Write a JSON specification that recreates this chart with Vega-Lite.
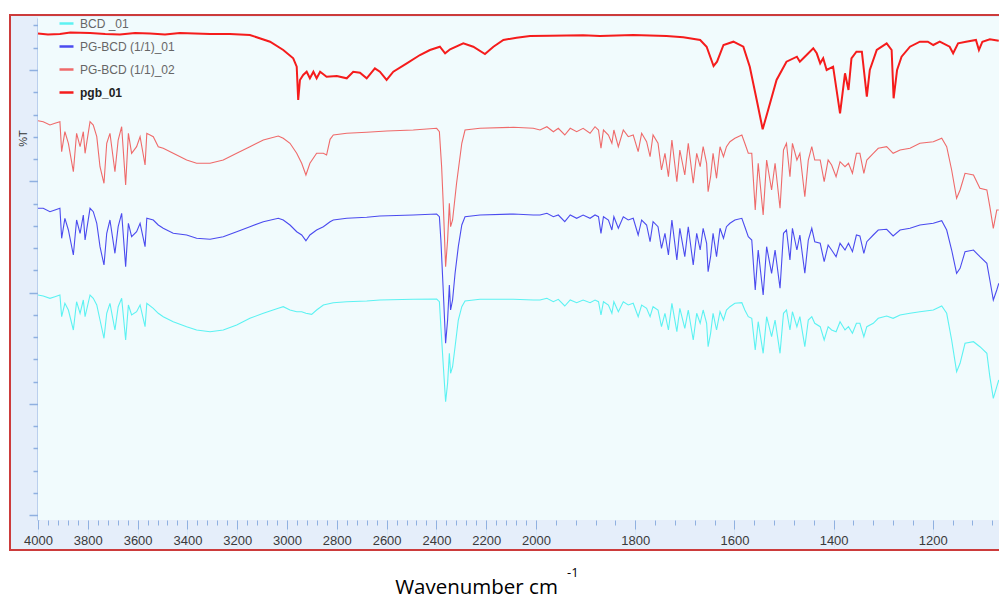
{
"$schema": "https://vega.github.io/schema/vega-lite/v6.json",
"width": 995,
"height": 535,
"autosize": {"type": "none"},
"padding": {"left": 10, "top": 15, "right": 0, "bottom": 49},
"background": "#ffffff",
"config": {"view": {"fill": "#e5eefa", "stroke": "#cc3b3b", "strokeWidth": 2}, "font": "Liberation Sans"},
"title": {"text": "-1", "orient": "top", "anchor": "start", "frame": "group", "offset": -575, "dx": 557, "fontSize": 13, "font": "Open Sans", "fontWeight": "normal", "color": "#000000", "baseline": "alphabetic"},
"datasets": {
"bcd": [{"x":4000,"y":220},{"x":3979,"y":219},{"x":3952,"y":216.7},{"x":3932,"y":218.3},{"x":3912,"y":220},{"x":3905,"y":198.3},{"x":3892,"y":211.7},{"x":3878,"y":205},{"x":3858,"y":185},{"x":3845,"y":213.3},{"x":3831,"y":201.7},{"x":3818,"y":215},{"x":3811,"y":198.3},{"x":3791,"y":220},{"x":3778,"y":216.7},{"x":3764,"y":210},{"x":3751,"y":195},{"x":3735,"y":176.7},{"x":3724,"y":201.7},{"x":3711,"y":211.7},{"x":3691,"y":185},{"x":3678,"y":208.3},{"x":3664,"y":216.7},{"x":3648,"y":175},{"x":3637,"y":210},{"x":3624,"y":200},{"x":3604,"y":203.3},{"x":3590,"y":210},{"x":3570,"y":188.3},{"x":3563,"y":211.7},{"x":3537,"y":206.7},{"x":3517,"y":201.7},{"x":3497,"y":198.3},{"x":3457,"y":193.3},{"x":3403,"y":188.3},{"x":3363,"y":185},{"x":3309,"y":183.3},{"x":3256,"y":185},{"x":3202,"y":190},{"x":3149,"y":196.7},{"x":3095,"y":201.7},{"x":3035,"y":206.7},{"x":3015,"y":208.3},{"x":2988,"y":205},{"x":2961,"y":203.3},{"x":2941,"y":203.3},{"x":2924,"y":201.7},{"x":2901,"y":200.7},{"x":2881,"y":205},{"x":2854,"y":210},{"x":2814,"y":212.3},{"x":2760,"y":213.3},{"x":2680,"y":214},{"x":2627,"y":215},{"x":2493,"y":215.7},{"x":2399,"y":216},{"x":2388,"y":213.3},{"x":2382,"y":188.3},{"x":2372,"y":148.3},{"x":2363,"y":113.3},{"x":2355,"y":131.7},{"x":2348,"y":161.7},{"x":2343,"y":141.7},{"x":2335,"y":148.3},{"x":2325,"y":168.3},{"x":2312,"y":195},{"x":2298,"y":208.3},{"x":2285,"y":214},{"x":2225,"y":215.7},{"x":2091,"y":215.7},{"x":2011,"y":215},{"x":1992,"y":215},{"x":1978,"y":216.7},{"x":1965,"y":213.3},{"x":1955,"y":215.7},{"x":1942,"y":209},{"x":1931,"y":215},{"x":1918,"y":212.3},{"x":1905,"y":215},{"x":1891,"y":212.3},{"x":1881,"y":215},{"x":1874,"y":213.3},{"x":1869,"y":200},{"x":1864,"y":213.3},{"x":1854,"y":210},{"x":1847,"y":201.7},{"x":1843,"y":213.3},{"x":1834,"y":203.3},{"x":1824,"y":213.3},{"x":1814,"y":210},{"x":1804,"y":211.7},{"x":1794,"y":198.3},{"x":1787,"y":210},{"x":1777,"y":206.7},{"x":1770,"y":198.3},{"x":1764,"y":208.3},{"x":1754,"y":205},{"x":1747,"y":188.3},{"x":1740,"y":201.7},{"x":1733,"y":185},{"x":1726,"y":211.7},{"x":1716,"y":183.3},{"x":1710,"y":206.7},{"x":1700,"y":186.7},{"x":1693,"y":205},{"x":1683,"y":175},{"x":1676,"y":201.7},{"x":1669,"y":191.7},{"x":1663,"y":205},{"x":1656,"y":191.7},{"x":1653,"y":168.3},{"x":1648,"y":181.7},{"x":1643,"y":201.7},{"x":1636,"y":185},{"x":1629,"y":203.3},{"x":1622,"y":195},{"x":1616,"y":205},{"x":1609,"y":208.3},{"x":1599,"y":211.7},{"x":1585,"y":212.3},{"x":1579,"y":205},{"x":1572,"y":198.3},{"x":1565,"y":196.7},{"x":1558,"y":165},{"x":1552,"y":193.3},{"x":1542,"y":161.7},{"x":1535,"y":198.3},{"x":1525,"y":178.3},{"x":1518,"y":195},{"x":1508,"y":161.7},{"x":1501,"y":201.7},{"x":1495,"y":205},{"x":1488,"y":185},{"x":1483,"y":203.3},{"x":1474,"y":188.3},{"x":1468,"y":198.3},{"x":1458,"y":168.3},{"x":1451,"y":195},{"x":1444,"y":198.3},{"x":1438,"y":191.7},{"x":1427,"y":188.3},{"x":1419,"y":175},{"x":1411,"y":188.3},{"x":1404,"y":185},{"x":1395,"y":183.3},{"x":1387,"y":193.3},{"x":1377,"y":185},{"x":1370,"y":188.3},{"x":1362,"y":181.7},{"x":1354,"y":191.7},{"x":1347,"y":191.7},{"x":1339,"y":178.3},{"x":1333,"y":188.3},{"x":1320,"y":191.7},{"x":1310,"y":196.7},{"x":1293,"y":199},{"x":1280,"y":196.7},{"x":1266,"y":200},{"x":1246,"y":201.7},{"x":1226,"y":203.3},{"x":1199,"y":205},{"x":1182,"y":209},{"x":1172,"y":201.7},{"x":1162,"y":175},{"x":1152,"y":143.3},{"x":1145,"y":151.7},{"x":1135,"y":171.7},{"x":1118,"y":173.3},{"x":1105,"y":168.3},{"x":1091,"y":161.7},{"x":1085,"y":138.3},{"x":1078,"y":116.7},{"x":1071,"y":128.3},{"x":1067,"y":135}],
"pg1": [{"x":4000,"y":306.7},{"x":3979,"y":306.7},{"x":3952,"y":303.3},{"x":3932,"y":305},{"x":3912,"y":306.7},{"x":3905,"y":276.7},{"x":3892,"y":296.7},{"x":3878,"y":285},{"x":3858,"y":260},{"x":3845,"y":295},{"x":3831,"y":281.7},{"x":3818,"y":300},{"x":3811,"y":275},{"x":3791,"y":306.7},{"x":3778,"y":303.3},{"x":3764,"y":291.7},{"x":3751,"y":268.3},{"x":3735,"y":250},{"x":3724,"y":281.7},{"x":3711,"y":295},{"x":3691,"y":261.7},{"x":3678,"y":288.3},{"x":3664,"y":301.7},{"x":3648,"y":248.3},{"x":3637,"y":291.7},{"x":3624,"y":278.3},{"x":3604,"y":283.3},{"x":3590,"y":291.7},{"x":3570,"y":268.3},{"x":3563,"y":296.7},{"x":3537,"y":295},{"x":3517,"y":290},{"x":3497,"y":286.7},{"x":3457,"y":281.7},{"x":3403,"y":280},{"x":3363,"y":276.7},{"x":3309,"y":275.7},{"x":3256,"y":278.3},{"x":3202,"y":283.3},{"x":3149,"y":288.3},{"x":3095,"y":293.3},{"x":3035,"y":296.7},{"x":3015,"y":295},{"x":2988,"y":290},{"x":2961,"y":283.3},{"x":2941,"y":280},{"x":2924,"y":274.3},{"x":2908,"y":280},{"x":2881,"y":285},{"x":2854,"y":288.3},{"x":2827,"y":293.3},{"x":2814,"y":295},{"x":2760,"y":296.7},{"x":2680,"y":297.7},{"x":2627,"y":299},{"x":2493,"y":300},{"x":2399,"y":301},{"x":2388,"y":298.3},{"x":2382,"y":275},{"x":2372,"y":221.7},{"x":2363,"y":171.7},{"x":2355,"y":195},{"x":2348,"y":230},{"x":2343,"y":205},{"x":2335,"y":215},{"x":2325,"y":241.7},{"x":2312,"y":268.3},{"x":2298,"y":290},{"x":2285,"y":298.3},{"x":2225,"y":300},{"x":2091,"y":301},{"x":2011,"y":300},{"x":1992,"y":300},{"x":1978,"y":301.7},{"x":1965,"y":298.3},{"x":1955,"y":300},{"x":1942,"y":293.3},{"x":1931,"y":300},{"x":1918,"y":296.7},{"x":1905,"y":300},{"x":1891,"y":296.7},{"x":1881,"y":300},{"x":1874,"y":298.3},{"x":1869,"y":281.7},{"x":1864,"y":298.3},{"x":1854,"y":295},{"x":1847,"y":285},{"x":1843,"y":298.3},{"x":1834,"y":286.7},{"x":1824,"y":298.3},{"x":1814,"y":295},{"x":1804,"y":296.7},{"x":1794,"y":280},{"x":1787,"y":295},{"x":1777,"y":290},{"x":1770,"y":273.3},{"x":1764,"y":293.3},{"x":1754,"y":288.3},{"x":1747,"y":266.7},{"x":1740,"y":281.7},{"x":1733,"y":260},{"x":1726,"y":295},{"x":1716,"y":255},{"x":1710,"y":286.7},{"x":1700,"y":258.3},{"x":1693,"y":288.3},{"x":1683,"y":250},{"x":1676,"y":281.7},{"x":1669,"y":265},{"x":1663,"y":286.7},{"x":1656,"y":271.7},{"x":1653,"y":243.3},{"x":1648,"y":258.3},{"x":1643,"y":281.7},{"x":1636,"y":258.3},{"x":1629,"y":286.7},{"x":1622,"y":276.7},{"x":1616,"y":288.3},{"x":1609,"y":291.7},{"x":1599,"y":295},{"x":1585,"y":296.7},{"x":1579,"y":288.3},{"x":1572,"y":278.3},{"x":1565,"y":275},{"x":1558,"y":225},{"x":1552,"y":265},{"x":1542,"y":220},{"x":1535,"y":268.3},{"x":1525,"y":241.7},{"x":1518,"y":265},{"x":1508,"y":226.7},{"x":1501,"y":281.7},{"x":1495,"y":285},{"x":1488,"y":255},{"x":1483,"y":286.7},{"x":1474,"y":265},{"x":1468,"y":280},{"x":1458,"y":241.7},{"x":1451,"y":275},{"x":1444,"y":286.7},{"x":1438,"y":273.3},{"x":1427,"y":271.7},{"x":1419,"y":253.3},{"x":1411,"y":270},{"x":1404,"y":265},{"x":1395,"y":258.3},{"x":1387,"y":271.7},{"x":1377,"y":265},{"x":1370,"y":271.7},{"x":1362,"y":263.3},{"x":1354,"y":280},{"x":1347,"y":279},{"x":1339,"y":261.7},{"x":1333,"y":273.3},{"x":1320,"y":280},{"x":1310,"y":285},{"x":1293,"y":285.7},{"x":1280,"y":279},{"x":1266,"y":285},{"x":1246,"y":286.7},{"x":1226,"y":290},{"x":1199,"y":291.7},{"x":1182,"y":294.3},{"x":1172,"y":285},{"x":1162,"y":265},{"x":1152,"y":241.7},{"x":1145,"y":246.7},{"x":1135,"y":263.3},{"x":1118,"y":265},{"x":1105,"y":258.3},{"x":1091,"y":251.7},{"x":1085,"y":235},{"x":1078,"y":215},{"x":1071,"y":225},{"x":1067,"y":231.7}],
"pg2": [{"x":4000,"y":394.3},{"x":3979,"y":393.3},{"x":3952,"y":390},{"x":3932,"y":391.7},{"x":3912,"y":393.3},{"x":3905,"y":363.3},{"x":3892,"y":383.3},{"x":3878,"y":371.7},{"x":3858,"y":343.3},{"x":3845,"y":381.7},{"x":3831,"y":368.3},{"x":3818,"y":383.3},{"x":3811,"y":361.7},{"x":3791,"y":393.3},{"x":3778,"y":390},{"x":3764,"y":378.3},{"x":3751,"y":348.3},{"x":3735,"y":331.7},{"x":3724,"y":371.7},{"x":3711,"y":381.7},{"x":3691,"y":343.3},{"x":3678,"y":375},{"x":3664,"y":388.3},{"x":3648,"y":330},{"x":3637,"y":381.7},{"x":3624,"y":361.7},{"x":3604,"y":368.3},{"x":3590,"y":378.3},{"x":3570,"y":350},{"x":3563,"y":381.7},{"x":3537,"y":378.3},{"x":3517,"y":368.3},{"x":3497,"y":366.7},{"x":3457,"y":361.7},{"x":3403,"y":355},{"x":3363,"y":351.7},{"x":3309,"y":351.7},{"x":3256,"y":355},{"x":3202,"y":361.7},{"x":3149,"y":368.3},{"x":3095,"y":375},{"x":3035,"y":379},{"x":3015,"y":376.7},{"x":2988,"y":371.7},{"x":2961,"y":361.7},{"x":2941,"y":351.7},{"x":2924,"y":340},{"x":2908,"y":351.7},{"x":2881,"y":361.7},{"x":2854,"y":361.7},{"x":2841,"y":360},{"x":2827,"y":375.7},{"x":2814,"y":380},{"x":2760,"y":381.7},{"x":2680,"y":382.7},{"x":2600,"y":384},{"x":2493,"y":385},{"x":2399,"y":386.7},{"x":2388,"y":383.3},{"x":2379,"y":348.3},{"x":2372,"y":308.3},{"x":2363,"y":248.3},{"x":2355,"y":275},{"x":2348,"y":311.7},{"x":2343,"y":288.3},{"x":2335,"y":295},{"x":2319,"y":331.7},{"x":2298,"y":371.7},{"x":2285,"y":385},{"x":2225,"y":386.7},{"x":2091,"y":387.7},{"x":2011,"y":386.7},{"x":1992,"y":385},{"x":1978,"y":388.3},{"x":1965,"y":383.3},{"x":1955,"y":386.7},{"x":1942,"y":380},{"x":1931,"y":386.7},{"x":1918,"y":383.3},{"x":1905,"y":386.7},{"x":1891,"y":381.7},{"x":1881,"y":388.3},{"x":1874,"y":385},{"x":1869,"y":366.7},{"x":1864,"y":385},{"x":1854,"y":380},{"x":1847,"y":371.7},{"x":1843,"y":385},{"x":1834,"y":368.3},{"x":1824,"y":385},{"x":1814,"y":378.3},{"x":1804,"y":380},{"x":1794,"y":363.3},{"x":1787,"y":381.7},{"x":1777,"y":373.3},{"x":1770,"y":358.3},{"x":1764,"y":380},{"x":1754,"y":371.7},{"x":1747,"y":345},{"x":1740,"y":361.7},{"x":1733,"y":338.3},{"x":1726,"y":375},{"x":1716,"y":333.3},{"x":1710,"y":365},{"x":1700,"y":340},{"x":1693,"y":371.7},{"x":1683,"y":331.7},{"x":1676,"y":361.7},{"x":1669,"y":348.3},{"x":1663,"y":368.3},{"x":1656,"y":351.7},{"x":1653,"y":323.3},{"x":1648,"y":338.3},{"x":1643,"y":361.7},{"x":1636,"y":336.7},{"x":1629,"y":368.3},{"x":1622,"y":358.3},{"x":1616,"y":368.3},{"x":1609,"y":373.3},{"x":1599,"y":376.7},{"x":1585,"y":380},{"x":1579,"y":371.7},{"x":1572,"y":361.7},{"x":1565,"y":361.7},{"x":1558,"y":305},{"x":1552,"y":351.7},{"x":1542,"y":300},{"x":1535,"y":355},{"x":1525,"y":325},{"x":1518,"y":351.7},{"x":1508,"y":306.7},{"x":1501,"y":365},{"x":1495,"y":371.7},{"x":1488,"y":338.3},{"x":1483,"y":371.7},{"x":1474,"y":355},{"x":1468,"y":361.7},{"x":1458,"y":318.3},{"x":1451,"y":355},{"x":1444,"y":368.3},{"x":1438,"y":355},{"x":1427,"y":355},{"x":1419,"y":333.3},{"x":1411,"y":355},{"x":1404,"y":350},{"x":1395,"y":338.3},{"x":1387,"y":353.3},{"x":1377,"y":348.3},{"x":1370,"y":351.7},{"x":1362,"y":341.7},{"x":1354,"y":361.7},{"x":1347,"y":361.7},{"x":1339,"y":341.7},{"x":1333,"y":355},{"x":1320,"y":361.7},{"x":1310,"y":366.7},{"x":1293,"y":368.3},{"x":1280,"y":361.7},{"x":1266,"y":365},{"x":1246,"y":366.7},{"x":1226,"y":371.7},{"x":1199,"y":373.3},{"x":1182,"y":376.7},{"x":1172,"y":368.3},{"x":1162,"y":345},{"x":1152,"y":316.7},{"x":1145,"y":325},{"x":1135,"y":341.7},{"x":1118,"y":340},{"x":1105,"y":326.7},{"x":1091,"y":325},{"x":1085,"y":308.3},{"x":1078,"y":286.7},{"x":1071,"y":305},{"x":1067,"y":305}],
"pgb": [{"x":4000,"y":481.5},{"x":3960,"y":480.5},{"x":3912,"y":481},{"x":3870,"y":482.5},{"x":3791,"y":482},{"x":3730,"y":481},{"x":3671,"y":480.5},{"x":3610,"y":482},{"x":3550,"y":481.5},{"x":3490,"y":480.5},{"x":3430,"y":482},{"x":3370,"y":481.5},{"x":3309,"y":481},{"x":3229,"y":481},{"x":3149,"y":480},{"x":3068,"y":473.3},{"x":3015,"y":465},{"x":2975,"y":456.7},{"x":2961,"y":448.3},{"x":2955,"y":415},{"x":2948,"y":435},{"x":2935,"y":440},{"x":2921,"y":443.3},{"x":2908,"y":436.7},{"x":2894,"y":443.3},{"x":2881,"y":436.7},{"x":2867,"y":443.3},{"x":2841,"y":438.3},{"x":2800,"y":439},{"x":2760,"y":436.7},{"x":2734,"y":443.3},{"x":2707,"y":442.3},{"x":2680,"y":436.7},{"x":2647,"y":446.7},{"x":2627,"y":443.3},{"x":2600,"y":435},{"x":2573,"y":443.3},{"x":2519,"y":451.7},{"x":2466,"y":460},{"x":2426,"y":465},{"x":2386,"y":468.3},{"x":2365,"y":461.7},{"x":2345,"y":465.7},{"x":2292,"y":471.7},{"x":2252,"y":468.3},{"x":2205,"y":461},{"x":2171,"y":468.3},{"x":2131,"y":475},{"x":2078,"y":477.3},{"x":2024,"y":479},{"x":1972,"y":479.3},{"x":1905,"y":479.7},{"x":1871,"y":479},{"x":1804,"y":480},{"x":1737,"y":479},{"x":1703,"y":477.7},{"x":1669,"y":475},{"x":1656,"y":468.3},{"x":1642,"y":449},{"x":1635,"y":453.3},{"x":1622,"y":470},{"x":1602,"y":473.3},{"x":1582,"y":468.3},{"x":1569,"y":448.3},{"x":1555,"y":415},{"x":1543,"y":385.7},{"x":1532,"y":405},{"x":1515,"y":435},{"x":1495,"y":453.3},{"x":1474,"y":458.3},{"x":1468,"y":453.3},{"x":1458,"y":458.3},{"x":1441,"y":466.7},{"x":1434,"y":461.7},{"x":1427,"y":451.7},{"x":1421,"y":456.7},{"x":1414,"y":445},{"x":1401,"y":448.3},{"x":1387,"y":401.7},{"x":1377,"y":441.7},{"x":1370,"y":425},{"x":1364,"y":456.7},{"x":1354,"y":463.3},{"x":1343,"y":463.3},{"x":1333,"y":418.3},{"x":1327,"y":445},{"x":1313,"y":465},{"x":1293,"y":471.7},{"x":1283,"y":465},{"x":1279,"y":416.7},{"x":1272,"y":445},{"x":1263,"y":458.3},{"x":1246,"y":468.3},{"x":1226,"y":473.3},{"x":1210,"y":473.3},{"x":1199,"y":470},{"x":1186,"y":473.3},{"x":1166,"y":468.3},{"x":1159,"y":461.7},{"x":1149,"y":471.7},{"x":1133,"y":473.3},{"x":1113,"y":475},{"x":1107,"y":465},{"x":1100,"y":473.3},{"x":1085,"y":475.7},{"x":1067,"y":474.3}]
},
"layer": [
{"data": {"values": [{}]},
 "mark": {"type": "rect", "fill": "#f1fbfd"},
 "encoding": {
  "x": {"datum": 4000, "type": "quantitative",
   "scale": {"domain": [4000, 2000, 1000], "range": [28, 526, 1022], "zero": false, "nice": false},
   "axis": {"orient": "bottom", "offset": -30, "domain": false, "tickCount": 500,
    "values": [4000,3960,3920,3880,3840,3800,3760,3720,3680,3640,3600,3560,3520,3480,3440,3400,3360,3320,3280,3240,3200,3160,3120,3080,3040,3000,2960,2920,2880,2840,2800,2760,2720,2680,2640,2600,2560,2520,2480,2440,2400,2360,2320,2280,2240,2200,2160,2120,2080,2040,2000,1960,1920,1880,1840,1800,1760,1720,1680,1640,1600,1560,1520,1480,1440,1400,1360,1320,1280,1240,1200,1160,1120,1080],
    "format": "d",
    "labelExpr": "datum.value % 200 === 0 ? datum.label : ''",
    "labelOverlap": false, "labelFlush": false, "labelBound": false,
    "labelFont": "Liberation Sans Narrow, Liberation Sans, sans-serif", "labelFontSize": 13, "labelColor": "#3a3a3a", "labelPadding": 5,
    "tickColor": "#8fb0e0", "tickWidth": 1,
    "tickSize": {"condition": {"test": "datum.value % 200 === 0", "value": 9}, "value": 5},
    "grid": true, "gridColor": "#d9e7f6",
    "gridOpacity": {"condition": {"test": "datum.value % 200 === 0", "value": 1}, "value": 0},
    "title": "Wavenumber cm", "titleFont": "Open Sans", "titleFontSize": 20.5, "titleFontWeight": "normal", "titleColor": "#000000",
    "titleX": 466, "titleY": 73, "titleBaseline": "alphabetic", "titleAlign": "center"}},
  "x2": {"datum": 1000},
  "y": {"datum": -5, "type": "quantitative",
   "scale": {"domain": [-5, 497], "range": [505, 3], "zero": false, "nice": false},
   "axis": {"orient": "left", "offset": -28, "tickCount": 500,
    "values": [0,22.25,44.5,66.75,89,111.25,133.5,155.75,178,200.25,222.5,244.75,267,289.25,311.5,333.75,356,378.25,400.5,422.75,445,467.25,489.5],
    "labels": false,
    "domainColor": "#8fb0e0", "domainWidth": 2,
    "tickColor": "#8fb0e0", "tickWidth": 1.5,
    "tickSize": {"condition": {"test": "datum.value % 111.25 === 0", "value": 9}, "value": 5},
    "grid": true, "gridColor": "#d9e7f6",
    "gridOpacity": {"condition": {"test": "datum.value % 111.25 === 0", "value": 1}, "value": 0},
    "title": "%T", "titleFont": "Liberation Sans", "titleFontSize": 11, "titleFontWeight": "normal", "titleColor": "#333333",
    "titleX": -10, "titleY": 123, "titleAngle": -90, "titleBaseline": "bottom", "titleAlign": "center"}},
  "y2": {"datum": 498}}},
{"data": {"name": "bcd"},
 "mark": {"type": "line", "strokeWidth": 1.1},
 "encoding": {
  "x": {"field": "x", "type": "quantitative"},
  "y": {"field": "y", "type": "quantitative"},
  "color": {"datum": "BCD _01", "type": "nominal",
   "scale": {"domain": ["BCD _01", "PG-BCD (1/1)_01", "PG-BCD (1/1)_02", "pgb_01"], "range": ["#5cf2f2", "#4b4bef", "#ef6a6a", "#f51c1c"]},
   "legend": {"orient": "none", "legendX": 48, "legendY": 0, "title": null, "padding": 0,
    "symbolType": "stroke", "symbolSize": 196, "symbolStrokeWidth": 2.5,
    "labelFont": "Liberation Sans", "labelFontSize": 12, "labelColor": "#666666", "labelOffset": 5, "rowPadding": 8,
    "encode": {"labels": {"update": {"fontWeight": {"signal": "datum.label === 'pgb_01' ? 'bold' : 'normal'"}, "fill": {"signal": "datum.label === 'pgb_01' ? '#222222' : '#666666'"}}}}}}}},
{"data": {"name": "pg1"},
 "mark": {"type": "line", "strokeWidth": 1.1},
 "encoding": {
  "x": {"field": "x", "type": "quantitative"},
  "y": {"field": "y", "type": "quantitative"},
  "color": {"datum": "PG-BCD (1/1)_01", "type": "nominal"}}},
{"data": {"name": "pg2"},
 "mark": {"type": "line", "strokeWidth": 1.1},
 "encoding": {
  "x": {"field": "x", "type": "quantitative"},
  "y": {"field": "y", "type": "quantitative"},
  "color": {"datum": "PG-BCD (1/1)_02", "type": "nominal"}}},
{"data": {"name": "pgb"},
 "mark": {"type": "line", "strokeWidth": 2},
 "encoding": {
  "x": {"field": "x", "type": "quantitative"},
  "y": {"field": "y", "type": "quantitative"},
  "color": {"datum": "pgb_01", "type": "nominal"}}}
]
}
